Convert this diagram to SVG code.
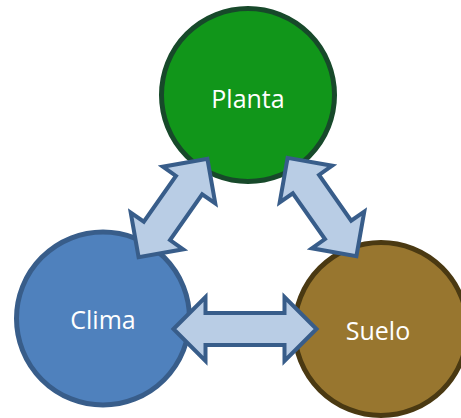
<svg xmlns="http://www.w3.org/2000/svg" width="461" height="418" viewBox="0 0 461 418">
<style>
.lbl{font-family:"Open Sans","Liberation Sans",sans-serif;font-size:25px;fill:#ffffff;text-anchor:middle}
.arr{fill:#b9cde5;stroke:#385d8a;stroke-width:4;stroke-linejoin:miter;stroke-miterlimit:10}
</style>
<defs>
<path id="dbl" d="M -60 0 L -28 -32 L -28 -16 L 28 -16 L 28 -32 L 60 0 L 28 32 L 28 16 L -28 16 L -28 32 Z"/>
</defs>
<rect width="461" height="418" fill="#ffffff"/>
<g id="planta">
<circle cx="248" cy="95" r="86.5" fill="#11961a" stroke="#17492a" stroke-width="5"/>
<text class="lbl" x="248" y="108">Planta</text>
</g>
<g id="clima">
<circle cx="103" cy="318.5" r="86.5" fill="#4f81bd" stroke="#385d8a" stroke-width="5"/>
<text class="lbl" x="103" y="329">Clima</text>
</g>
<g id="suelo">
<circle cx="381" cy="329" r="86.5" fill="#98762f" stroke="#4a3912" stroke-width="5"/>
<text class="lbl" x="378" y="340">Suelo</text>
</g>
<g id="connectors">
<use href="#dbl" class="arr" transform="translate(173,208) rotate(-55)"/>
<use href="#dbl" class="arr" transform="translate(322,207) rotate(55)"/>
<path class="arr" d="M 173.5 329 L 205.5 297 L 205.5 313 L 284.5 313 L 284.5 297 L 316.5 329 L 284.5 361 L 284.5 345 L 205.5 345 L 205.5 361 Z"/>
</g>
</svg>
